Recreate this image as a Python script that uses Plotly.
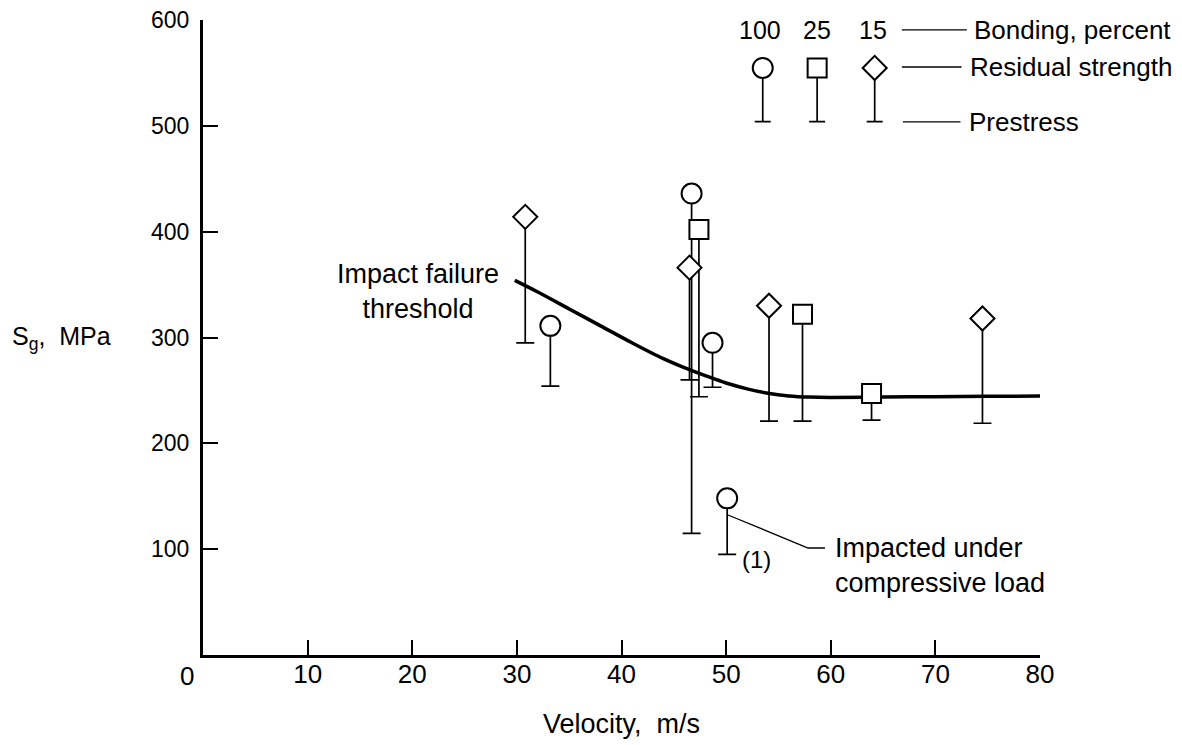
import plotly.graph_objects as go

# ---------------- data ----------------
# 100 percent bonding (circles)
vel_100 = [33.2, 46.7, 48.7, 50.1]
resid_100 = [311, 436, 295, 148]
prestress_100 = [254, 115, 253, 95]

# 25 percent bonding (squares)
vel_25 = [47.4, 57.3, 63.9]
resid_25 = [402, 322, 247]
prestress_25 = [244, 221, 222]

# 15 percent bonding (diamonds)
vel_15 = [30.8, 46.5, 54.1, 74.5]
resid_15 = [414, 366, 330, 318]
prestress_15 = [295, 260, 221, 219]

# impact failure threshold curve
thr_vel = [29.8, 32, 35, 38, 41, 44, 46, 48, 50, 52, 54, 56, 58, 60, 65, 70, 75, 80]
thr_sg = [354, 343, 327, 311, 295, 280, 271.5, 264, 257, 251.5, 247.3, 244.8, 243.7,
          243.4, 243.7, 244.1, 244.4, 244.7]

x_ticks = [10, 20, 30, 40, 50, 60, 70, 80]
y_ticks = [100, 200, 300, 400, 500, 600]
bonding_labels = ["100", "25", "15"]

# ---------------- styling ----------------
FONT = "Liberation Sans, Arial, sans-serif"
BLACK = "black"

series = [
    (vel_100, resid_100, prestress_100, "circle", 20),
    (vel_25, resid_25, prestress_25, "square", 19),
    (vel_15, resid_15, prestress_15, "diamond", 18.5),
]

fig = go.Figure()

# threshold curve
fig.add_trace(go.Scatter(
    x=thr_vel, y=thr_sg, mode="lines",
    line=dict(color=BLACK, width=3.5, shape="spline", smoothing=1.0),
    hoverinfo="skip", showlegend=False,
))

# stems (residual strength down to prestress) drawn first
for vx, vr, vp, sym, sz in series:
    fig.add_trace(go.Scatter(
        x=vx, y=vr, mode="markers",
        marker=dict(size=1, color="rgba(0,0,0,0)"),
        error_y=dict(type="data", symmetric=False,
                     array=[0] * len(vr),
                     arrayminus=[r - p for r, p in zip(vr, vp)],
                     width=9, thickness=1.7, color=BLACK),
        showlegend=False, hoverinfo="skip", cliponaxis=False,
    ))

# markers on top (white filled so stems stay hidden inside)
for vx, vr, vp, sym, sz in series:
    fig.add_trace(go.Scatter(
        x=vx, y=vr, mode="markers",
        marker=dict(symbol=sym, size=sz, color="white",
                    line=dict(color=BLACK, width=2)),
        showlegend=False, cliponaxis=False,
    ))

# ---------------- key (upper right) ----------------
key_x = [53.5, 58.7, 64.2]
key_marker_y = 554.7
key_pre_y = 503.9
fig.add_trace(go.Scatter(
    x=key_x, y=[key_marker_y] * 3, mode="markers",
    marker=dict(size=1, color="rgba(0,0,0,0)"),
    error_y=dict(type="data", symmetric=False, array=[0] * 3,
                 arrayminus=[key_marker_y - key_pre_y] * 3,
                 width=8, thickness=1.7, color=BLACK),
    showlegend=False, hoverinfo="skip", cliponaxis=False,
))
for (kx, (_, _, _, sym, sz)) in zip(key_x, series):
    fig.add_trace(go.Scatter(
        x=[kx], y=[key_marker_y], mode="markers",
        marker=dict(symbol=sym, size=sz, color="white",
                    line=dict(color=BLACK, width=2)),
        showlegend=False, hoverinfo="skip", cliponaxis=False,
    ))

annotations = []
for kx, lab in zip([53.24, 58.69, 64.04], bonding_labels):
    annotations.append(dict(x=kx, y=590.6, xref="x", yref="y", text=lab,
                            showarrow=False, font=dict(family=FONT, size=25, color=BLACK)))

shapes = []
for y0, x0, x1 in [(590.6, 66.8, 73.0), (555.6, 66.8, 72.5), (503.7, 66.9, 72.4)]:
    shapes.append(dict(type="line", xref="x", yref="y", x0=x0, x1=x1, y0=y0, y1=y0,
                       line=dict(color=BLACK, width=1.3)))
for tx, ty, txt in [(73.5, 590.6, "Bonding, percent"),
                    (73.1, 555.6, "Residual strength"),
                    (73.0, 503.7, "Prestress")]:
    annotations.append(dict(x=tx, y=ty, xref="x", yref="y", text=txt, xanchor="left",
                            showarrow=False, font=dict(family=FONT, size=26, color=BLACK)))

# curve label
annotations.append(dict(x=20.55, y=343.5, xref="x", yref="y",
                        text="Impact failure<br>threshold", showarrow=False,
                        align="center", font=dict(family=FONT, size=27, color=BLACK)))
# compressive load note
annotations.append(dict(x=60.2, y=84.6, xref="x", yref="y", xanchor="left",
                        text="Impacted under<br>compressive load", showarrow=False,
                        align="left", font=dict(family=FONT, size=27, color=BLACK)))
annotations.append(dict(x=52.9, y=89.8, xref="x", yref="y", text="(1)", showarrow=False,
                        font=dict(family=FONT, size=24, color=BLACK)))
shapes.append(dict(type="path", xref="x", yref="y",
                   path="M 50.18 132.3 L 57.83 101.1 L 59.45 101.1",
                   line=dict(color=BLACK, width=1.3)))

# shared origin label
annotations.append(dict(x=-0.019, y=-0.033, xref="paper", yref="paper", text="0",
                        xanchor="center", yanchor="middle",
                        showarrow=False, font=dict(family=FONT, size=26, color=BLACK)))
# y-axis title
annotations.append(dict(x=-0.2306, y=0.499, xref="paper", yref="paper",
                        xanchor="left", yanchor="middle",
                        text="S<sub>g</sub>,&nbsp;&nbsp;MPa", showarrow=False,
                        font=dict(family=FONT, size=25, color=BLACK)))
# x-axis title
annotations.append(dict(x=0.5, y=-0.1087, xref="paper", yref="paper",
                        xanchor="center", yanchor="middle",
                        text="Velocity,&nbsp;&nbsp;m/s", showarrow=False,
                        font=dict(family=FONT, size=27, color=BLACK)))

# the page body has an 8 px margin, so the margins are offset to compensate
fig.update_layout(
    width=1182, height=745,
    margin=dict(l=195, r=150, t=12, b=98),
    paper_bgcolor="white", plot_bgcolor="white",
    showlegend=False,
    annotations=annotations, shapes=shapes,
    xaxis=dict(range=[0, 80], tickvals=x_ticks, ticktext=[str(v) for v in x_ticks],
               ticks="inside", ticklen=15, tickwidth=1.5, tickcolor=BLACK,
               showline=True, linewidth=3, linecolor=BLACK, mirror=False,
               showgrid=False, zeroline=False, automargin=False,
               ticklabelstandoff=-6, ticklabeloverflow="allow",
               tickfont=dict(family=FONT, size=26, color=BLACK)),
    yaxis=dict(range=[0, 600], tickvals=y_ticks, ticktext=[str(v) for v in y_ticks],
               ticks="inside", ticklen=15, tickwidth=1.5, tickcolor=BLACK,
               showline=True, linewidth=3, linecolor=BLACK, mirror=False,
               showgrid=False, zeroline=False, automargin=False,
               ticklabelstandoff=6, ticklabeloverflow="allow",
               tickfont=dict(family=FONT, size=23, color=BLACK)),
)

fig.write_html("out.html")
